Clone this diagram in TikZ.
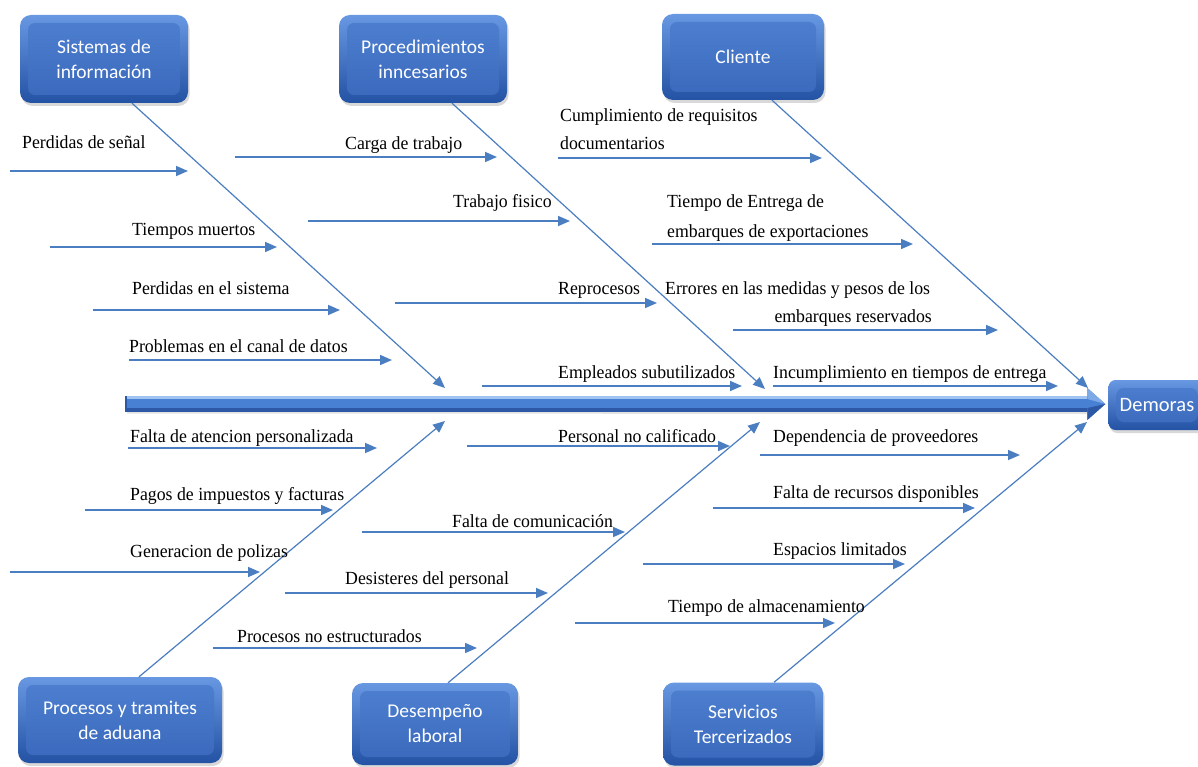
\documentclass[tikz,border=0pt]{standalone}
\usepackage{fontspec}
\setmainfont{Liberation Serif}[FakeStretch=0.96]
\newfontfamily\boxfont{Carlito}
\usetikzlibrary{arrows.meta,shadows,calc}

\definecolor{lineblue}{RGB}{74,126,193}
\definecolor{boxtop}{RGB}{104,152,226}
\definecolor{boxbot}{RGB}{36,82,164}
\definecolor{facetop}{RGB}{78,128,208}
\definecolor{facebot}{RGB}{58,104,188}
\definecolor{spinetop}{RGB}{160,196,242}
\definecolor{spinemid}{RGB}{72,128,212}
\definecolor{spinebot}{RGB}{44,88,166}

\tikzset{
  catbox/.style={rounded corners=11pt, top color=boxtop, bottom color=boxbot,
    draw=none, text=white, align=center, inner sep=0pt,
    font=\boxfont\fontsize{19.5}{25}\selectfont,
    drop shadow={shadow xshift=1.5pt, shadow yshift=-3pt, opacity=0.3},
    path picture={\shade[top color=facetop, bottom color=facebot, rounded corners=7pt]
      ([shift={(8pt,8pt)}]path picture bounding box.south west) rectangle
      ([shift={(-8pt,-8pt)}]path picture bounding box.north east);}},
  bone/.style={draw=lineblue, line width=1.2pt, -{Triangle[length=12pt,width=10pt]}},
  sub/.style={draw=lineblue, line width=1.6pt, -{Triangle[length=12pt,width=10pt]}},
  lbl/.style={inner sep=0pt, anchor=base west, font=\fontsize{18.5}{22}\selectfont},
  lblr/.style={lbl, anchor=base east},
}

\begin{document}
\begin{tikzpicture}[x=1pt, y=-1pt]
\useasboundingbox (0,0) rectangle (1198,767);
\fill[white] (0,0) rectangle (1198,767);

% category boxes
\node[catbox, minimum width=168pt, minimum height=88pt] (sis) at (104,59) {Sistemas de\\información};
\node[catbox, minimum width=168pt, minimum height=88pt] (proc) at (423,59) {Procedimientos\\inncesarios};
\node[catbox, minimum width=162pt, minimum height=86pt] (cli) at (743,57) {Cliente};
\node[catbox, minimum width=204pt, minimum height=86pt] (adu) at (120,720) {Procesos y tramites\\de aduana};
\node[catbox, minimum width=166pt, minimum height=82pt] (des) at (435,724) {Desempeño\\laboral};
\node[catbox, minimum width=160pt, minimum height=83pt] (ser) at (743,724) {Servicios\\Tercerizados};
\node[catbox, minimum width=97pt, minimum height=50pt, rounded corners=7pt,
      font=\boxfont\fontsize{20.5}{25}\selectfont] (dem) at (1157,405) {Demoras};

% main spine: a shaded bar ending in a broad arrowhead at the effect box
\coordinate (spL) at (125,403.5);
\coordinate (spR) at ($(dem.west)+(-3,-1)$);
\fill[black!25, opacity=0.45] ($(spL)+(2,10)$) -- ($(spR)+(-18,10)$) -- ($(spR)+(-18,-3)$) -- ($(spL)+(2,-3)$) -- cycle;
\fill[spinemid]
  ($(spL)+(0,-7.5)$) -- ($(spR)+(-18,-7.5)$) -- ($(spR)+(-18,-16)$) -- (spR)
  -- ($(spR)+(-18,16)$) -- ($(spR)+(-18,7.5)$) -- ($(spL)+(0,7.5)$) -- cycle;
\fill[spinetop] ($(spL)+(0,-7.5)$) rectangle ($(spR)+(-18,-5)$);
\fill[spinebot] ($(spL)+(0,4)$) rectangle ($(spR)+(-18,7.5)$);
\fill[spinetop!60!spinemid] ($(spR)+(-18,-16)$) -- (spR) -- ($(spR)+(-18,-5)$) -- cycle;
\fill[spinebot] ($(spR)+(-18,16)$) -- (spR) -- ($(spR)+(-18,4)$) -- cycle;
\fill[spinebot] ($(spL)+(0,-7.5)$) rectangle ($(spL)+(2,7.5)$);

% tips of the category bones on the spine
\coordinate (sisT) at (445,388);
\coordinate (procT) at (765,389);
\coordinate (cliT) at (1088,388);
\coordinate (aduT) at (445,421);
\coordinate (desT) at (760,422);
\coordinate (serT) at (1087,422);

\draw[bone] ($(sis.south)+(28,0)$) -- (sisT);
\draw[bone] ($(proc.south)+(29,0)$) -- (procT);
\draw[bone] ($(cli.south)+(29,0)$) -- (cliT);
\draw[bone] ($(adu.north)+(19,0)$) -- (aduT);
\draw[bone] ($(des.north)+(13,0)$) -- (desT);
\draw[bone] ($(ser.north)+(31,0)$) -- (serT);

% causes: Sistemas de información
\node[lbl] (c1) at (22,149) {Perdidas de señal};
\coordinate (c1s) at (10,171); \coordinate (c1e) at (188,171);
\draw[sub] (c1s) -- (c1e);
\node[lbl] (c2) at (132,236) {Tiempos muertos};
\coordinate (c2s) at (50,247); \coordinate (c2e) at (277,247);
\draw[sub] (c2s) -- (c2e);
\node[lbl] (c3) at (132,294) {Perdidas en el sistema};
\coordinate (c3s) at (93,310); \coordinate (c3e) at (340,310);
\draw[sub] (c3s) -- (c3e);
\node[lbl] (c4) at (129,352) {Problemas en el canal de datos};
\coordinate (c4s) at (129,360); \coordinate (c4e) at (392,360);
\draw[sub] (c4s) -- (c4e);

% causes: Procedimientos inncesarios
\node[lbl] (c5) at (345,150) {Carga de trabajo};
\coordinate (c5s) at (235,157); \coordinate (c5e) at (497,157);
\draw[sub] (c5s) -- (c5e);
\node[lbl] (c6) at (453,208) {Trabajo fisico};
\coordinate (c6s) at (308,221); \coordinate (c6e) at (570,221);
\draw[sub] (c6s) -- (c6e);
\node[lbl] (c7) at (558,294) {Reprocesos};
\coordinate (c7s) at (395,303); \coordinate (c7e) at (657,303);
\draw[sub] (c7s) -- (c7e);
\node[lbl] (c8) at (558,378) {Empleados subutilizados};
\coordinate (c8s) at (482,386); \coordinate (c8e) at (742,386);
\draw[sub] (c8s) -- (c8e);

% causes: Cliente
\node[lbl] (c9a) at (560,122) {Cumplimiento de requisitos};
\node[lbl] (c9b) at (560,150) {documentarios};
\coordinate (c9s) at (558,158); \coordinate (c9e) at (822,158);
\draw[sub] (c9s) -- (c9e);
\node[lbl] (c10a) at (667,208) {Tiempo de Entrega de};
\node[lbl] (c10b) at (667,237) {embarques de exportaciones};
\coordinate (c10s) at (652,244); \coordinate (c10e) at (913,244);
\draw[sub] (c10s) -- (c10e);
\node[lbl] (c11a) at (665,294) {Errores en las medidas y pesos de los};
\node[lblr] (c11b) at (932,322) {embarques reservados};
\coordinate (c11s) at (733,330); \coordinate (c11e) at (998,330);
\draw[sub] (c11s) -- (c11e);
\node[lbl] (c12) at (773,378) {Incumplimiento en tiempos de entrega};
\coordinate (c12s) at (773,386); \coordinate (c12e) at (1058,386);
\draw[sub] (c12s) -- (c12e);

% causes: Procesos y tramites de aduana
\node[lbl] (c13) at (130,442) {Falta de atencion personalizada};
\coordinate (c13s) at (128,448); \coordinate (c13e) at (377,448);
\draw[sub] (c13s) -- (c13e);
\node[lbl] (c14) at (130,500) {Pagos de impuestos y facturas};
\coordinate (c14s) at (85,510); \coordinate (c14e) at (333,510);
\draw[sub] (c14s) -- (c14e);
\node[lbl] (c15) at (130,557) {Generacion de polizas};
\coordinate (c15s) at (10,572); \coordinate (c15e) at (260,572);
\draw[sub] (c15s) -- (c15e);
\node[lbl] (c16) at (237,642) {Procesos no estructurados};
\coordinate (c16s) at (213,648); \coordinate (c16e) at (477,648);
\draw[sub] (c16s) -- (c16e);

% causes: Desempeño laboral
\node[lbl] (c17) at (558,442) {Personal no calificado};
\coordinate (c17s) at (467,446); \coordinate (c17e) at (730,446);
\draw[sub] (c17s) -- (c17e);
\node[lbl] (c18) at (452,527) {Falta de comunicación};
\coordinate (c18s) at (362,532); \coordinate (c18e) at (625,532);
\draw[sub] (c18s) -- (c18e);
\node[lbl] (c19) at (345,584) {Desisteres del personal};
\coordinate (c19s) at (285,593); \coordinate (c19e) at (548,593);
\draw[sub] (c19s) -- (c19e);

% causes: Servicios Tercerizados
\node[lbl] (c20) at (773,442) {Dependencia de proveedores};
\coordinate (c20s) at (760,455); \coordinate (c20e) at (1020,455);
\draw[sub] (c20s) -- (c20e);
\node[lbl] (c21) at (773,498) {Falta de recursos disponibles};
\coordinate (c21s) at (713,508); \coordinate (c21e) at (975,508);
\draw[sub] (c21s) -- (c21e);
\node[lbl] (c22) at (773,555) {Espacios limitados};
\coordinate (c22s) at (643,564); \coordinate (c22e) at (905,564);
\draw[sub] (c22s) -- (c22e);
\node[lbl] (c23) at (668,612) {Tiempo de almacenamiento};
\coordinate (c23s) at (575,623); \coordinate (c23e) at (835,623);
\draw[sub] (c23s) -- (c23e);
\end{tikzpicture}
\end{document}
